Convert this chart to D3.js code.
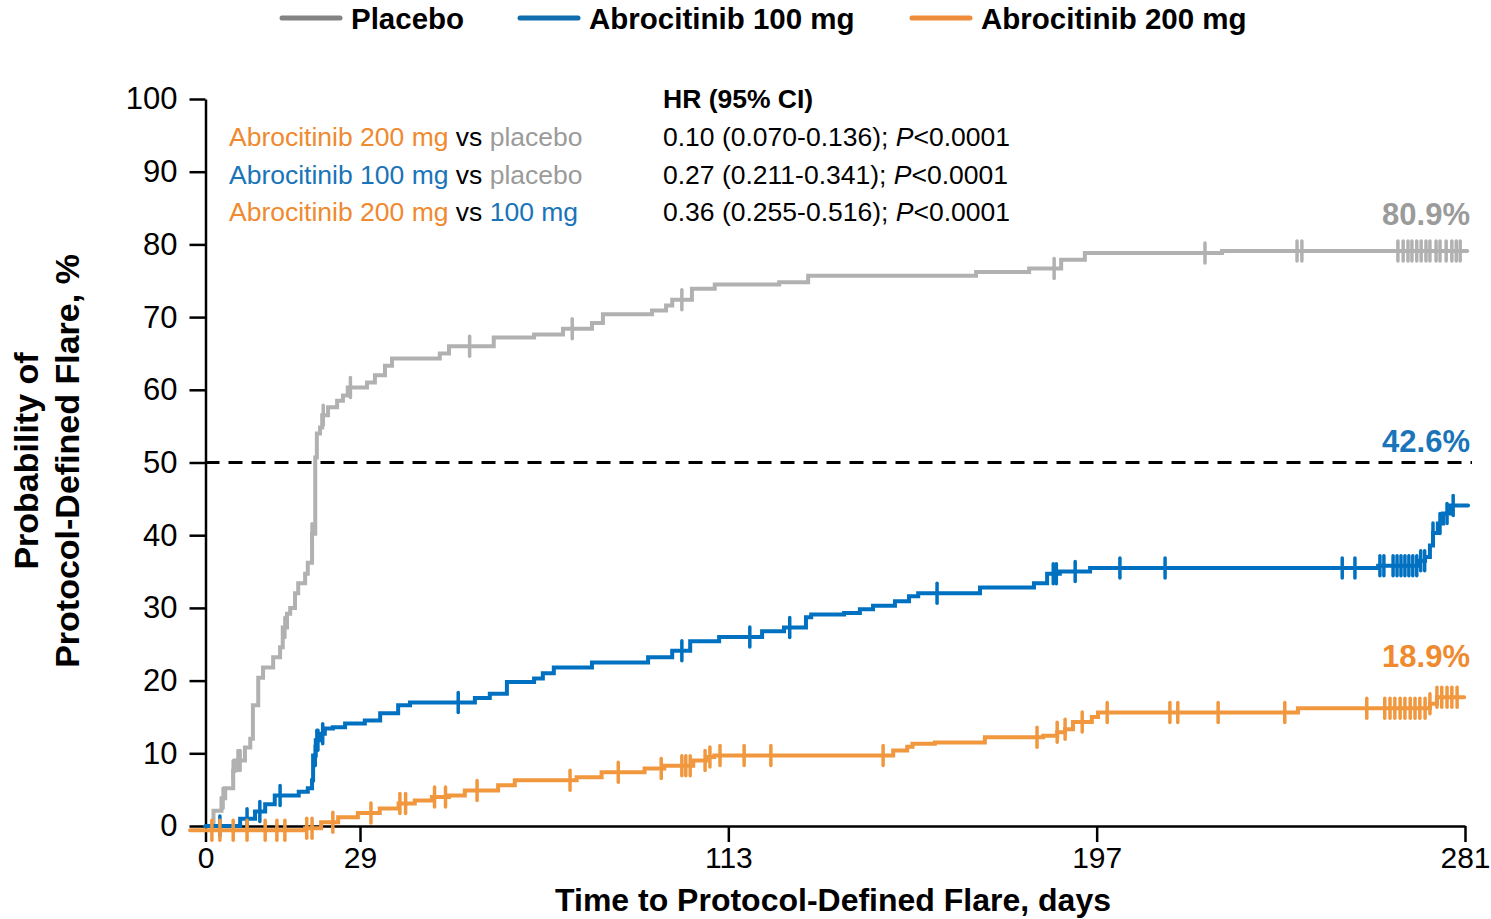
<!DOCTYPE html>
<html>
<head>
<meta charset="utf-8">
<style>
  body { margin: 0; background: #fff; }
  svg { font-family: "Liberation Sans", Arial, sans-serif; }
</style>
</head>
<body>
<svg width="1491" height="919"></svg>
<script src="https://d3js.org/d3.v7.min.js"></script>
<script>
// ---- data (day, cumulative % flared) ----
const xTicks = [0, 29, 113, 197, 281];
const yTicks = [0, 10, 20, 30, 40, 50, 60, 70, 80, 90, 100];

const placeboSteps = [
  [0, 0], [1.5, 2.1], [3, 3.8], [3.7, 5.2], [5.2, 7.6], [5.5, 9.0], [7.4, 10.8], [8.4, 12],
  [8.9, 16.6], [9.9, 20.4], [10.8, 21.8], [12.7, 23.2], [14, 24.6], [14.5, 27.3], [15.3, 29.2],
  [15.9, 30], [16.8, 32], [17.4, 33.4], [18.7, 34.7], [19.2, 36.2], [20, 40.2], [20.6, 50.7],
  [20.9, 54], [21.5, 54.8], [21.9, 56.5], [23, 57.6], [24.7, 58.5], [25.8, 59.2], [26.7, 60.3],
  [30.6, 61], [32.4, 62], [34.7, 63.3], [36.3, 64.3], [47.2, 65], [49.3, 66], [59.5, 67.2],
  [68.7, 67.6], [75.3, 68.4], [81.9, 69.2], [84.4, 70.4], [95.6, 70.9], [98.8, 71.6],
  [100.2, 72.4], [104.7, 73.9], [109.9, 74.5], [124.6, 74.8], [131.2, 75.7], [169.5, 76.2],
  [181.6, 76.7], [188.9, 77.9], [194.3, 78.8], [225.6, 79.1]
];
const placeboCensor = [3.3, 5.2, 6.1, 6.5, 14.9, 20, 22.1, 27.2, 54, 77.4, 102.4, 187.3, 221.7,
  242.7, 243.8, 265.7, 266.9, 268, 268.9, 270, 271, 272.1, 273, 274.4, 275.3, 276.7, 278, 279, 279.9];
const placeboEnd = 281.5;

const abro100Steps = [
  [0, 0], [6.5, 1.0], [9.3, 2.0], [11.2, 3.0], [13, 4.2], [17.5, 4.7], [19.2, 5.2], [20, 6.3], [20.2, 9.7],
  [20.7, 11.8], [21.5, 12.7], [22.4, 13.4], [23.9, 13.6], [26.2, 14.1], [30.1, 14.5],
  [33.6, 15.5], [37.7, 16.6], [40.4, 17.0], [55.2, 17.6], [58.6, 18.2], [62.5, 19.8],
  [68.7, 20.3], [70.7, 21], [73.2, 21.8], [81.9, 22.5], [94.7, 23.2], [100.2, 24.1],
  [104.3, 25.4], [110.9, 26], [120.7, 26.8], [125.7, 27.3], [130.7, 28.7], [131.9, 29.1],
  [139.4, 29.3], [143, 29.8], [146, 30.3], [151, 30.9], [154.2, 31.6], [156.3, 32],
  [170.4, 32.8], [182.7, 33.4], [185.7, 34.7], [188.6, 35.0], [195.5, 35.5], [261.2, 35.8],
  [270.7, 36.5], [271.9, 37], [273, 38.6], [273.7, 40.3], [274.8, 41.6], [276, 43], [277.6, 44.1]
];
const abro100Censor = [2.7, 7.8, 10.2, 14, 20.6, 20.9, 21.1, 22, 51.4, 102.4, 117.9, 127, 160.6,
  187.1, 187.8, 192.1, 202.3, 212.6, 253, 255.9, 261.6, 262.5, 264.6, 265.5, 266.4, 267.3,
  268.2, 269.1, 270, 270.9, 271.8, 273.7, 275.3, 276.9, 278.3];
const abro100End = 281.7;

const abro200Steps = [
  [-2.9, -0.6], [18.7, -0.3], [21.7, 0.5], [24.9, 1.2], [28.6, 1.8], [33.5, 2.4], [37.8, 3.1],
  [41.5, 3.5], [45.4, 4.0], [49.3, 4.2], [52.9, 4.9], [60.5, 5.6], [64.3, 6.3], [78.4, 6.7],
  [84.1, 7.4], [93.9, 7.9], [98.4, 8.3], [105, 9.0], [108, 9.5], [109.8, 9.7], [150.6, 10.4],
  [153.8, 10.9], [155, 11.3], [160.1, 11.5], [171.5, 12.2], [184.8, 12.4], [188, 12.9],
  [189.8, 13.3], [191.6, 14.3], [195.9, 15.0], [197.3, 15.6], [242.9, 16.2], [273, 16.8], [274.6, 17.7]
];
const abro200Censor = [1.2, 2.7, 5.2, 7.8, 11.2, 13.4, 14.9, 19, 20, 23.9, 31.5, 38.1, 39.4, 46,
  48.5, 55.7, 76.9, 87.9, 97.7, 102.4, 103.3, 104.3, 107.7, 108.8, 111.1, 116.6, 122.7, 148.3,
  183.4, 188, 189.8, 193.7, 199.4, 213.7, 215.5, 224.7, 239.9, 258.6, 262.7, 263.9, 265, 266.2,
  267.3, 268.5, 269.6, 270.7, 271.9, 273, 274.6, 275.7, 276.9, 278, 279.2];
const abro200End = 280.8;

const legendNames = ["Placebo", "Abrocitinib 100 mg", "Abrocitinib 200 mg"];
const endLabels = ["80.9%", "42.6%", "18.9%"];
const hrRows = [
  { a: "Abrocitinib 200 mg", b: "placebo", ca: "orange", cb: "gray", hr: "0.10 (0.070-0.136); " },
  { a: "Abrocitinib 100 mg", b: "placebo", ca: "blue", cb: "gray", hr: "0.27 (0.211-0.341); " },
  { a: "Abrocitinib 200 mg", b: "100 mg", ca: "orange", cb: "blue", hr: "0.36 (0.255-0.516); " }
];

// ---- styling ----
const lineCol = { gray: "#b1b1b1", blue: "#0070c0", orange: "#f1983f" };
const textCol = { gray: "#9b9b9b", blue: "#1a74b9", orange: "#ef8a2f" };
const legendCol = ["#838383", "#0f6cad", "#ef8c3c"];

const svg = d3.select("svg");
const x = d3.scaleLinear().domain([0, 29, 281]).range([205.5, 360, 1465]);
const y = d3.scaleLinear().domain([0, 100]).range([826, 99]);

function valueAt(steps, t) {
    let v = steps[0][1];
    steps.forEach(s => { if (s[0] <= t) v = s[1]; });
    return v;
}

// 50% reference
svg.append("line")
    .attr("x1", x(0)).attr("x2", 1472)
    .attr("y1", y(50)).attr("y2", y(50))
    .attr("stroke", "#000").attr("stroke-width", 3)
    .attr("stroke-dasharray", "14,9");

// axes
const yAxis = svg.append("g")
    .attr("transform", `translate(${x(0)},0)`)
    .call(d3.axisLeft(y).tickValues(yTicks).tickSize(16).tickSizeOuter(0).tickPadding(12));
const xAxis = svg.append("g")
    .attr("transform", `translate(0,${y(0)})`)
    .call(d3.axisBottom(x).tickValues(xTicks).tickSize(16).tickSizeOuter(0).tickPadding(5));
[yAxis, xAxis].forEach(g => {
    g.selectAll("path, line").attr("stroke", "#000").attr("stroke-width", 2.5);
    g.selectAll("text").attr("font-size", 31).attr("fill", "#000")
        .attr("font-family", "Liberation Sans, Arial, sans-serif");
});
xAxis.selectAll("text").attr("font-size", 30);

// curves
const line = d3.line().x(d => x(d[0])).y(d => y(d[1])).curve(d3.curveStepAfter);
const series = [
    { steps: placeboSteps, censor: placeboCensor, end: placeboEnd, col: lineCol.gray },
    { steps: abro100Steps, censor: abro100Censor, end: abro100End, col: lineCol.blue },
    { steps: abro200Steps, censor: abro200Censor, end: abro200End, col: lineCol.orange }
];
series.forEach(s => {
    const pts = s.steps.concat([[s.end, s.steps[s.steps.length - 1][1]]]);
    svg.append("path")
        .attr("d", line(pts))
        .attr("fill", "none")
        .attr("stroke", s.col)
        .attr("stroke-width", 4)
        .attr("stroke-linecap", "round");
    svg.append("g").selectAll("line")
        .data(s.censor)
        .join("line")
        .attr("x1", d => x(d)).attr("x2", d => x(d))
        .attr("y1", d => y(valueAt(s.steps, d)) - 10)
        .attr("y2", d => y(valueAt(s.steps, d)) + 10)
        .attr("stroke", s.col)
        .attr("stroke-width", 3.5)
        .attr("stroke-linecap", "round");
});

// end-of-curve percentages
const endY = [225, 452, 667];
endLabels.forEach((t, i) => {
    svg.append("text")
        .attr("x", 1470).attr("y", endY[i])
        .attr("text-anchor", "end")
        .attr("font-size", 31).attr("font-weight", "bold")
        .attr("fill", [textCol.gray, textCol.blue, textCol.orange][i])
        .text(t);
});

// legend
const legX = [282, 520, 912];
legendNames.forEach((n, i) => {
    svg.append("line")
        .attr("x1", legX[i]).attr("x2", legX[i] + 58)
        .attr("y1", 18).attr("y2", 18)
        .attr("stroke", legendCol[i]).attr("stroke-width", 5)
        .attr("stroke-linecap", "round");
    svg.append("text")
        .attr("x", legX[i] + 69).attr("y", 29)
        .attr("font-size", 29.5).attr("font-weight", "bold")
        .text(n);
});

// hazard ratio table
svg.append("text")
    .attr("x", 663).attr("y", 108)
    .attr("font-size", 26.5).attr("font-weight", "bold")
    .text("HR (95% CI)");
hrRows.forEach((r, i) => {
    const yy = 146 + i * 37.5;
    const t = svg.append("text").attr("x", 229).attr("y", yy).attr("font-size", 26.5);
    t.append("tspan").attr("fill", textCol[r.ca]).text(r.a);
    t.append("tspan").attr("fill", "#000").text(" vs ");
    t.append("tspan").attr("fill", textCol[r.cb]).text(r.b);
    const h = svg.append("text").attr("x", 663).attr("y", yy).attr("font-size", 26.5).attr("fill", "#000");
    h.append("tspan").text(r.hr);
    h.append("tspan").attr("font-style", "italic").text("P");
    h.append("tspan").text("<0.0001");
});

// axis titles
svg.append("text")
    .attr("x", 833).attr("y", 911)
    .attr("text-anchor", "middle")
    .attr("font-size", 32).attr("font-weight", "bold")
    .text("Time to Protocol-Defined Flare, days");
const yt = svg.append("text")
    .attr("transform", "translate(0,461) rotate(-90)")
    .attr("text-anchor", "middle")
    .attr("font-size", 34).attr("font-weight", "bold");
yt.append("tspan").attr("x", 0).attr("y", 38).text("Probability of");
yt.append("tspan").attr("x", 0).attr("y", 79).text("Protocol-Defined Flare, %");
</script>
</body>
</html>
